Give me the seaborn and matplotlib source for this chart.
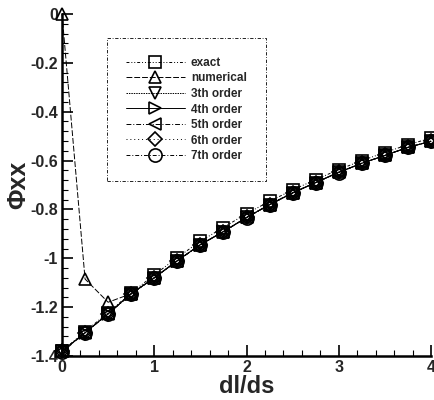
import numpy as np
import pandas as pd
import matplotlib
matplotlib.use("Agg")
import matplotlib.pyplot as plt
import seaborn as sns
from matplotlib.ticker import MultipleLocator, FuncFormatter

sns.set_theme(style="white")
plt.rcParams['font.family'] = ['Liberation Sans', 'DejaVu Sans']

# ---- data ----
dl_ds = [0.0, 0.25, 0.5, 0.75, 1.0, 1.25, 1.5, 1.75, 2.0, 2.25, 2.5, 2.75, 3.0, 3.25, 3.5, 3.75, 4.0]
exact     = [-1.38, -1.30, -1.222, -1.142, -1.068, -0.997, -0.930, -0.874, -0.817, -0.767, -0.720, -0.678, -0.637, -0.600, -0.567, -0.535, -0.508]
numerical = [0.0, -1.085, -1.18, -1.145, -1.08, -1.01, -0.944, -0.891, -0.833, -0.78, -0.732, -0.69, -0.648, -0.611, -0.579, -0.546, -0.521]
order3    = [-1.38, -1.305, -1.228, -1.146, -1.08, -1.01, -0.944, -0.891, -0.833, -0.781, -0.733, -0.690, -0.648, -0.611, -0.579, -0.546, -0.521]
order4    = [-1.38, -1.305, -1.227, -1.145, -1.08, -1.01, -0.944, -0.890, -0.833, -0.780, -0.732, -0.690, -0.648, -0.611, -0.579, -0.546, -0.521]
order5    = [-1.38, -1.305, -1.227, -1.145, -1.08, -1.01, -0.944, -0.891, -0.833, -0.780, -0.732, -0.690, -0.648, -0.611, -0.579, -0.546, -0.521]
order6    = [-1.38, -1.305, -1.227, -1.145, -1.08, -1.01, -0.944, -0.891, -0.833, -0.780, -0.732, -0.690, -0.648, -0.611, -0.579, -0.546, -0.521]
order7    = [-1.385, -1.305, -1.228, -1.146, -1.08, -1.01, -0.945, -0.891, -0.834, -0.781, -0.733, -0.690, -0.649, -0.611, -0.579, -0.546, -0.521]

series_names = ["exact", "numerical", "3th order", "4th order", "5th order", "6th order", "7th order"]
series_vals = [exact, numerical, order3, order4, order5, order6, order7]

x_ticks = [0, 1, 2, 3, 4]
y_ticks = [-1.4, -1.2, -1.0, -0.8, -0.6, -0.4, -0.2, 0.0]

# ---- styles ----
markers = ["s", "^", "v", ">", "<", "D", "o"]
msizes = [8, 9, 9, 9, 9, 7.5, 9.5]
lstyles = [(0, (3, 2, 1, 2, 1, 2)), (0, (6, 2)), (0, (1.5, 1)), "-", (0, (5, 2, 1, 2)), (0, (1, 3)), (0, (4, 2, 1, 2))]

fig = plt.figure(figsize=(4.34, 4.0), dpi=100)
ax = fig.add_axes([62/434, 44/400, (431-62)/434, (356-14)/400])

for name, vals, mk, ms, ls in zip(series_names, series_vals, markers, msizes, lstyles):
    df = pd.DataFrame({"x": dl_ds, "y": vals})
    sns.lineplot(data=df, x="x", y="y", ax=ax, color="black", linestyle=ls,
                 linewidth=0.7, marker=mk, markersize=ms, markerfacecolor="none",
                 markeredgecolor="black", markeredgewidth=1.2, label=name,
                 clip_on=False, zorder=3)

ax.set_xlim(0, 4)
ax.set_ylim(-1.4, 0.0)
ax.set_xticks(x_ticks)
ax.set_yticks(y_ticks)
ax.xaxis.set_minor_locator(MultipleLocator(0.2))
ax.yaxis.set_minor_locator(MultipleLocator(0.04))

def fmt(v, pos):
    s = f"{v:g}"
    if s == "-0":
        s = "0"
    return s
ax.xaxis.set_major_formatter(FuncFormatter(fmt))
ax.yaxis.set_major_formatter(FuncFormatter(fmt))

for side in ["top", "right"]:
    ax.spines[side].set_visible(False)
for side in ["left", "bottom"]:
    ax.spines[side].set_linewidth(1.8)
    ax.spines[side].set_color("black")

ax.tick_params(which="major", direction="in", length=8, width=1.2, color="black",
               labelsize=11.5, pad=3, left=True, bottom=True)
ax.tick_params(which="minor", direction="in", length=4, width=0.8, color="black",
               left=True, bottom=True)
for lab in ax.get_xticklabels() + ax.get_yticklabels():
    lab.set_fontweight("bold")

ax.set_xlabel("dl/ds", fontsize=17, fontweight="bold", labelpad=0)
ax.set_ylabel("Φxx", fontsize=18, fontweight="bold", labelpad=0)

leg = ax.legend(loc="upper left", bbox_to_anchor=(107/434, 1 - 38/400),
                bbox_transform=fig.transFigure, frameon=True, fancybox=False,
                prop={"weight": "bold", "size": 8.5}, handlelength=5.0,
                handletextpad=0.5, labelspacing=0.3, borderpad=1.6,
                borderaxespad=0)
frame = leg.get_frame()
frame.set_edgecolor("black")
frame.set_linewidth(0.6)
frame.set_linestyle((0, (4, 2, 1, 2)))
frame.set_facecolor("white")
frame.set_alpha(1)

fig.savefig("out.png", dpi=100)
